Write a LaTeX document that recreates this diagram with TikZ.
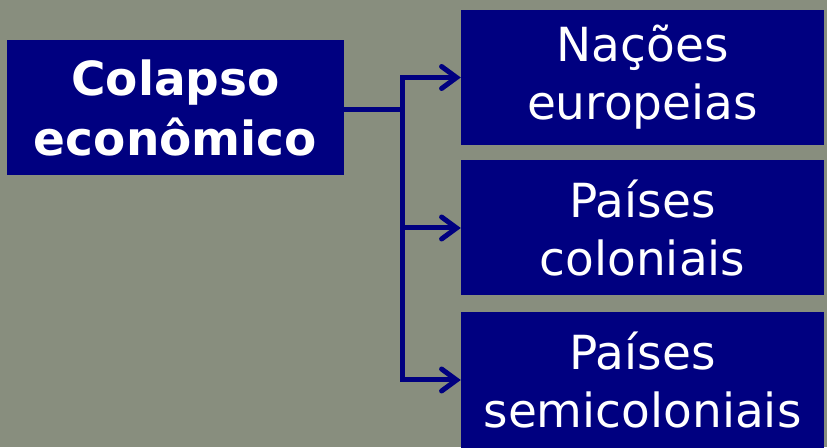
\documentclass[tikz,border=0pt]{standalone}
\usepackage{fontspec}
\setmainfont{DejaVu Sans}
\usetikzlibrary{arrows.meta}
\definecolor{bgc}{RGB}{136,142,126}
\definecolor{navy}{RGB}{0,0,128}
\tikzset{
  leftbox/.style={fill=navy, text=white, minimum width=337pt, minimum height=135pt, inner sep=0pt, align=center, font=\bfseries\fontsize{47}{60}\selectfont},
  rightbox/.style={fill=navy, text=white, minimum width=363pt, minimum height=135pt, inner sep=0pt, align=center, font=\fontsize{47}{58}\selectfont},
  conn/.style={draw=navy, line width=5pt},
  tipped/.style={-{Straight Barb[length=15pt,width=22pt,line cap=round]}}
}
\begin{document}
\begin{tikzpicture}[x=1pt,y=1pt]
\fill[bgc] (0,0) rectangle (827,447);
\useasboundingbox (0,0) rectangle (827,447);
\node[leftbox] (left) at (175.5,339.5) {Colapso\\econômico};
\node[rightbox] (top) at (642.5,369.5) {Nações\\europeias};
\node[rightbox] (mid) at (642.5,219) {Países\\coloniais};
\node[rightbox] (bot) at (642.5,67) {Países\\semicoloniais};
\coordinate (J) at (402,337);
\draw[conn] (left.east |- J) -- (J);
\draw[conn,tipped] (J) |- (top.west);
\draw[conn,tipped] (J) |- (mid.west);
\draw[conn,tipped] (J) |- (bot.west);
\end{tikzpicture}
\end{document}
